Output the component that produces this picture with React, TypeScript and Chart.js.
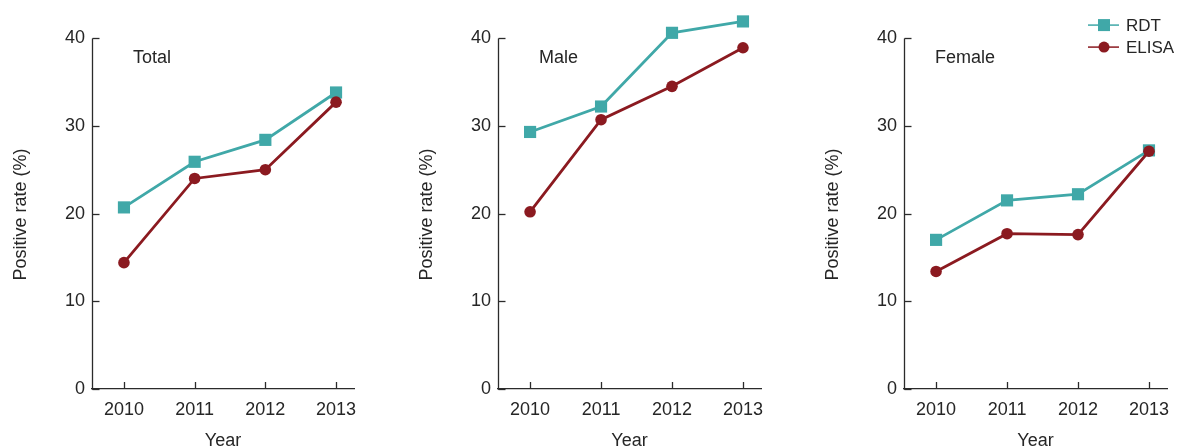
import { useEffect, useRef } from "react";
import { Chart, registerables } from "chart.js";

Chart.register(...registerables);

// ---- data ----
const years = [2010, 2011, 2012, 2013];
const yTickValues = [0, 10, 20, 30, 40];
const seriesNames = ["RDT", "ELISA"];
const totalRDT = [20.7, 25.9, 28.4, 33.8];
const totalELISA = [14.4, 24.0, 25.0, 32.7];
const maleRDT = [29.3, 32.2, 40.6, 41.9];
const maleELISA = [20.2, 30.7, 34.5, 38.9];
const femaleRDT = [17.0, 21.5, 22.2, 27.2];
const femaleELISA = [13.4, 17.7, 17.6, 27.1];
const panelTitles = ["Total", "Male", "Female"];
const xAxisTitle = "Year";
const yAxisTitle = "Positive rate (%)";

// ---- style ----
const FONT = "'Liberation Sans', Arial, Helvetica, sans-serif";
const TEAL = "#40a8a8";
const RED = "#8b1a20";
const AXIS = "#2b2b2b";
const TEXT = "#262626";

const axisDecor = {
  id: "axisDecor",
  afterDatasetsDraw(chart: any) {
    const { ctx, chartArea, scales } = chart;
    const ys = scales.y;
    const xs = scales.x;
    ctx.save();
    ctx.strokeStyle = AXIS;
    ctx.lineWidth = 1.3;
    const yTop = ys.getPixelForValue(yTickValues[yTickValues.length - 1]);
    const yBot = ys.getPixelForValue(yTickValues[0]);
    const ax = Math.round(chartArea.left) + 0.5;
    ctx.beginPath();
    ctx.moveTo(ax, Math.round(yTop) + 0.5);
    ctx.lineTo(ax, yBot + 0.7);
    ctx.stroke();
    ys.ticks.forEach((t: any) => {
      const py = Math.round(ys.getPixelForValue(t.value)) + 0.5;
      ctx.beginPath();
      ctx.moveTo(ax, py);
      ctx.lineTo(ax + 7, py);
      ctx.stroke();
    });
    xs.ticks.forEach((t: any) => {
      const px = Math.round(xs.getPixelForValue(t.value)) + 0.5;
      ctx.beginPath();
      ctx.moveTo(px, chartArea.bottom);
      ctx.lineTo(px, chartArea.bottom - 7);
      ctx.stroke();
    });
    ctx.restore();
  },
};

const yTitle = {
  id: "yTitle",
  afterDraw(chart: any, _args: any, opts: any) {
    const { ctx, scales } = chart;
    const ys = scales.y;
    const top = ys.getPixelForValue(yTickValues[yTickValues.length - 1]);
    const bot = ys.getPixelForValue(yTickValues[0]);
    ctx.save();
    ctx.translate(ys.left + 21, (top + bot) / 2 + 1);
    ctx.rotate(-Math.PI / 2);
    ctx.fillStyle = TEXT;
    ctx.font = `18px ${FONT}`;
    ctx.textAlign = "center";
    ctx.textBaseline = "middle";
    ctx.fillText(opts.text, 0, 0);
    ctx.restore();
  },
};

const panelLabel = {
  id: "panelLabel",
  afterDraw(chart: any, _args: any, opts: any) {
    const { ctx, chartArea, scales } = chart;
    const top = scales.y.getPixelForValue(yTickValues[yTickValues.length - 1]);
    ctx.save();
    ctx.fillStyle = TEXT;
    ctx.font = `18px ${FONT}`;
    ctx.textBaseline = "middle";
    ctx.textAlign = "left";
    ctx.fillText(opts.text, chartArea.left + opts.offset, top + 20);
    ctx.restore();
  },
};

const lineLegend = {
  id: "lineLegend",
  afterDraw(chart: any, _args: any, opts: any) {
    if (!opts.show) return;
    const { ctx, chartArea, scales } = chart;
    const top = scales.y.getPixelForValue(yTickValues[yTickValues.length - 1]);
    const x0 = chartArea.right - 79;
    const rows = [top - 13, top + 9];
    chart.data.datasets.forEach((ds: any, i: number) => {
      const y = rows[i];
      ctx.save();
      ctx.strokeStyle = ds.borderColor;
      ctx.lineWidth = 1.5;
      ctx.beginPath();
      ctx.moveTo(x0, y);
      ctx.lineTo(x0 + 31, y);
      ctx.stroke();
      ctx.fillStyle = ds.pointBackgroundColor;
      const cx = x0 + 16;
      if (ds.pointStyle === "rect") {
        ctx.fillRect(cx - 6, y - 6, 12, 12);
      } else {
        ctx.beginPath();
        ctx.arc(cx, y, 5.5, 0, Math.PI * 2);
        ctx.fill();
      }
      ctx.fillStyle = TEXT;
      ctx.font = `17px ${FONT}`;
      ctx.textBaseline = "middle";
      ctx.textAlign = "left";
      ctx.fillText(ds.label, x0 + 38, y + 1);
      ctx.restore();
    });
  },
};

type PanelProps = {
  rdt: number[];
  elisa: number[];
  title: string;
  left: number;
  width: number;
  padRight: number;
  labelOffset: number;
  showLegend: boolean;
};

function Panel({ rdt, elisa, title, left, width, padRight, labelOffset, showLegend }: PanelProps) {
  const ref = useRef<HTMLCanvasElement | null>(null);
  useEffect(() => {
    if (!ref.current) return;
    const chart = new Chart(ref.current, {
      type: "line",
      data: {
        datasets: [
          {
            label: seriesNames[0],
            data: years.map((x, i) => ({ x, y: rdt[i] })),
            borderColor: TEAL,
            backgroundColor: TEAL,
            pointBackgroundColor: TEAL,
            pointBorderColor: TEAL,
            pointStyle: "rect",
            pointRadius: 8.6,
            pointBorderWidth: 0,
            borderWidth: 2.8,
            clip: false,
            order: 1,
          } as any,
          {
            label: seriesNames[1],
            data: years.map((x, i) => ({ x, y: elisa[i] })),
            borderColor: RED,
            backgroundColor: RED,
            pointBackgroundColor: RED,
            pointBorderColor: RED,
            pointStyle: "circle",
            pointRadius: 5.8,
            pointBorderWidth: 0,
            borderWidth: 2.8,
            clip: false,
            order: 0,
          } as any,
        ],
      },
      options: {
        animation: false,
        responsive: false,
        devicePixelRatio: 1,
        layout: { autoPadding: false, padding: { top: 3, right: padRight, bottom: 0, left: 0 } },
        plugins: {
          legend: { display: false },
          tooltip: { enabled: false },
          panelLabel: { text: title, offset: labelOffset },
          lineLegend: { show: showLegend },
          yTitle: { text: yAxisTitle },
        } as any,
        scales: {
          x: {
            type: "linear",
            min: 2009.548,
            max: 2013.254,
            afterBuildTicks: (s: any) => {
              s.ticks = years.map((v) => ({ value: v }));
            },
            afterFit: (s: any) => {
              s.height = 59;
              s.paddingLeft = 0;
              s.paddingRight = 0;
            },
            grid: { display: false, drawTicks: false },
            border: { display: true, color: AXIS, width: 1.3 },
            ticks: {
              color: TEXT,
              font: { family: FONT, size: 18 },
              padding: 10,
              maxRotation: 0,
              autoSkip: false,
              callback: (v: any) => String(v),
            },
            title: {
              display: true,
              text: xAxisTitle,
              color: TEXT,
              font: { family: FONT, size: 18 },
              padding: { top: 0, bottom: -4 },
            },
          },
          y: {
            type: "linear",
            min: 0,
            max: 44,
            afterBuildTicks: (s: any) => {
              s.ticks = yTickValues.map((v) => ({ value: v }));
            },
            afterFit: (s: any) => {
              s.width = 92;
              s.paddingTop = 0;
              s.paddingBottom = 0;
            },
            grid: { display: false, drawTicks: false },
            border: { display: false },
            ticks: {
              color: TEXT,
              font: { family: FONT, size: 18 },
              padding: 7,
              callback: (v: any) => String(v),
            },
            title: { display: false },
          },
        },
      },
      plugins: [axisDecor, panelLabel, lineLegend, yTitle],
    });
    return () => chart.destroy();
  }, [rdt, elisa, title, padRight, labelOffset, showLegend]);

  return (
    <div style={{ position: "absolute", left, top: 0, width, height: 448 }}>
      <canvas ref={ref} width={width} height={448} style={{ width, height: 448, display: "block" }} />
    </div>
  );
}

export default function App() {
  return (
    <div
      style={{
        position: "absolute",
        left: 0,
        top: 0,
        width: 1177,
        height: 448,
        overflow: "hidden",
        background: "#ffffff",
      }}
    >
      <Panel rdt={totalRDT} elisa={totalELISA} title={panelTitles[0]} left={0} width={406} padRight={52} labelOffset={41} showLegend={false} />
      <Panel rdt={maleRDT} elisa={maleELISA} title={panelTitles[1]} left={406} width={406} padRight={51} labelOffset={41} showLegend={false} />
      <Panel rdt={femaleRDT} elisa={femaleELISA} title={panelTitles[2]} left={812} width={365} padRight={10} labelOffset={31} showLegend={true} />
    </div>
  );
}
